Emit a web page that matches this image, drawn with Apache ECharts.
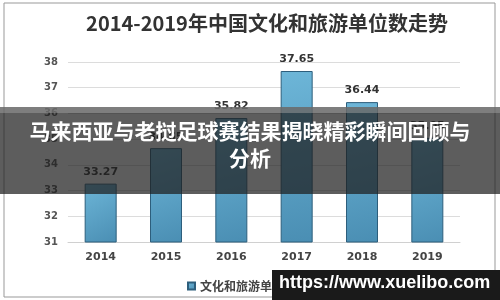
<!DOCTYPE html>
<html><head><meta charset="utf-8">
<script src="https://cdn.jsdelivr.net/npm/echarts@6/dist/echarts.min.js"></script>
<style>html,body{margin:0;padding:0;background:#fff}#c{width:500px;height:300px}</style>
</head><body><div id="c"></div>
<script>
const categories = ['2014','2015','2016','2017','2018','2019'];
const values = [33.27, 34.65, 35.82, 37.65, 36.44, 35.05];
const seriesName = '文化和旅游单位数：个';
const titleText = '2014-2019年中国文化和旅游单位数走势';
const bannerLines = ['马来西亚与老挝足球赛结果揭晓精彩瞬间回顾与', '分析'];
const watermark = 'https://www.xuelibo.com';

const chart = echarts.init(document.getElementById('c'));
chart.setOption({
  animation: false,
  backgroundColor: '#fff',
  title: { text: titleText, left: 262, top: 8, textAlign: 'center',
    textStyle: { fontFamily: 'Noto Sans CJK SC', fontSize: 20, fontWeight: 'bold', color: '#333' } },
  grid: { left: 68, right: 40, top: 62, bottom: 58 },
  legend: { left: 182, top: 275, itemWidth: 7, itemHeight: 7, itemGap: 4,
    icon: 'rect',
    textStyle: { fontFamily: 'Noto Sans CJK SC', fontSize: 12, fontWeight: 'bold', color: '#444' },
    data: [seriesName] },
  xAxis: { type: 'category', data: categories,
    axisLine: { lineStyle: { color: '#d0d0d0' } }, axisTick: { show: false },
    axisLabel: { fontFamily: 'DejaVu Sans', fontSize: 11, fontWeight: 'bold', color: '#444', margin: 10 } },
  yAxis: { type: 'value', min: 31, max: 38, interval: 1,
    axisLine: { show: false }, axisTick: { show: false },
    splitLine: { lineStyle: { color: '#dcdcdc' } },
    axisLabel: { fontFamily: 'DejaVu Sans', fontSize: 10, fontWeight: 'bold', color: '#555', margin: 10 } },
  series: [{ name: seriesName, type: 'bar', data: values, barWidth: 32,
    itemStyle: { color: new echarts.graphic.LinearGradient(0,0,1,1,[{offset:0,color:'#6db6d8'},{offset:1,color:'#4a8eb3'}]),
      borderColor: '#2d5e7c', borderWidth: 1 },
    label: { show: true, position: 'top', fontFamily: 'DejaVu Sans', fontSize: 11, fontWeight: 'bold', color: '#333', distance: 6 } }],
  graphic: [
    { type: 'rect', shape: { x: 4, y: 3, width: 491, height: 294 }, style: { fill: 'none', stroke: '#999', lineWidth: 1 }, z: 1, silent: true },
    { type: 'rect', shape: { x: 0, y: 107, width: 500, height: 87 }, style: { fill: 'rgba(30,30,30,0.72)' }, z: 100 },
    { type: 'rect', shape: { x: 0, y: 107, width: 500, height: 6 }, style: { fill: 'rgba(160,160,160,0.5)' }, z: 101 },
    { type: 'text', left: 'center', top: 121, z: 102, style: { text: bannerLines[0], fill: '#fff', font: 'bold 21px "Noto Sans CJK SC"' } },
    { type: 'text', left: 'center', top: 148, z: 102, style: { text: bannerLines[1], fill: '#fff', font: 'bold 21px "Noto Sans CJK SC"' } },
    { type: 'rect', shape: { x: 272, y: 270, width: 228, height: 30 }, style: { fill: '#1a1a1a' }, z: 100 },
    { type: 'text', left: 279, top: 274, z: 102, style: { text: watermark, fill: '#fff', font: 'bold 18px "Liberation Sans"' } }
  ]
});
</script></body></html>
